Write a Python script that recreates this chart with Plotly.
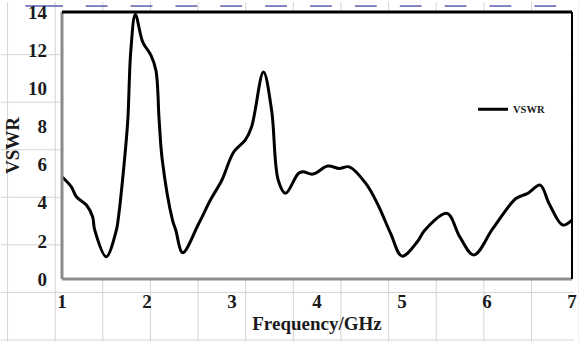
import plotly.graph_objects as go

# Measured VSWR of the antenna over 1-7 GHz
freq_ghz = [1.00, 1.11, 1.17, 1.29, 1.36, 1.385, 1.52, 1.64, 1.66, 1.735,
            1.774, 1.81, 1.863, 1.95, 2.047, 2.105, 2.143, 2.18, 2.30, 2.338,
            2.42, 2.61, 2.746, 2.88, 3.02, 3.155, 3.23, 3.37, 3.466, 3.544,
            3.63, 3.78, 3.835, 3.95, 4.127, 4.26, 4.38, 4.574, 4.71, 4.866,
            5.0, 5.18, 5.27, 5.53, 5.68, 5.845, 6.07, 6.34, 6.48, 6.625,
            6.73, 6.89, 7.0]
vswr = [5.36, 4.83, 4.31, 3.87, 3.26, 2.57, 1.17, 2.57, 3.09, 6.23,
        8.32, 12.0, 13.87, 12.42, 11.73, 10.94, 8.32, 6.23, 3.09, 2.57,
        1.38, 2.92, 4.14, 5.18, 6.66, 7.28, 7.97, 10.85, 8.85, 5.18,
        4.49, 5.53, 5.62, 5.5, 5.92, 5.8, 5.88, 5.01, 3.96, 2.39,
        1.2, 1.95, 2.57, 3.44, 2.21, 1.26, 2.65, 4.22, 4.49, 4.92,
        3.96, 2.83, 3.09]

x_ticks = [1, 2, 3, 4, 5, 6, 7]
y_ticks = [0, 2, 4, 6, 8, 10, 12, 14]

W, H = 579, 342
L, R, T, B = 62, 2, 10, 63
PW, PH = W - L - R, H - T - B

FONT = "Liberation Serif, Times New Roman, serif"
TICK_FONT = dict(family=FONT, size=19, color="#1a1a1a")


def px(x):
    return (x - L) / PW


def py(y):
    return (T + PH - y) / PH


def bold(values):
    return [f"<b>{v}</b>" for v in values]


shapes = []
# worksheet cell grid behind the chart
grid = dict(color="#d4d4d4", width=1)
col_x = [7 + 48.1 * i for i in range(13)]
row_y = [53 + 47.9 * i for i in range(7)]
for cx in col_x:
    shapes.append(dict(type="line", xref="paper", yref="paper", layer="below",
                       x0=px(cx), x1=px(cx), y0=py(0), y1=py(H), line=grid))
for ry in row_y:
    shapes.append(dict(type="line", xref="paper", yref="paper", layer="below",
                       x0=px(0), x1=px(W), y0=py(ry), y1=py(ry), line=grid))
# page-break dashes along the top edge
dash_starts = [25] + [86 + 45.3 * i for i in range(11)]
for i, ds in enumerate(dash_starts):
    de = 63 if i == 0 else ds + 22
    shapes.append(dict(type="line", xref="paper", yref="paper", layer="below",
                       x0=px(ds), x1=px(de), y0=py(4), y1=py(4),
                       line=dict(color="#5b5bb0", width=1.5)))
# white plot area
shapes.append(dict(type="rect", xref="paper", yref="paper", layer="below",
                   x0=0, x1=1, y0=0, y1=1, fillcolor="white",
                   line=dict(width=0)))
# plot-area frame
shapes += [
    dict(type="line", xref="paper", yref="paper", x0=0, x1=1, y0=0, y1=0,
         line=dict(color="#8c8c8c", width=3)),
    dict(type="line", xref="paper", yref="paper", x0=0, x1=0, y0=0, y1=1,
         line=dict(color="#8c8c8c", width=3)),
    dict(type="line", xref="paper", yref="paper", x0=0, x1=1, y0=1, y1=1,
         line=dict(color="black", width=3)),
    dict(type="line", xref="paper", yref="paper", x0=1, x1=1, y0=0, y1=1,
         line=dict(color="black", width=2)),
]

fig = go.Figure()
fig.add_trace(go.Scatter(
    x=freq_ghz, y=vswr, name="<b>VSWR</b>", mode="lines",
    line=dict(color="black", width=3, shape="spline", smoothing=1.0),
))

fig.update_layout(
    width=W, height=H,
    margin=dict(l=L, r=R, t=T, b=B),
    paper_bgcolor="white",
    plot_bgcolor="white",
    font=dict(family=FONT, size=19, color="#1a1a1a"),
    shapes=shapes,
    showlegend=True,
    legend=dict(x=px(477), y=py(108), xanchor="left", yanchor="middle",
                bgcolor="rgba(0,0,0,0)",
                font=dict(family=FONT, size=10.5, color="#1a1a1a")),
    xaxis=dict(range=[1, 7], tickvals=x_ticks, ticktext=bold(x_ticks),
               ticks="", showgrid=False,
               zeroline=False, showline=False, ticklabelstandoff=9,
               ticklabeloverflow="allow", tickfont=TICK_FONT,
               title=dict(text="<b>Frequency/GHz</b>", standoff=5,
                          font=dict(family=FONT, size=19))),
    yaxis=dict(range=[0, 14], tickvals=y_ticks, ticktext=bold(y_ticks),
               ticks="", showgrid=False,
               zeroline=False, showline=False, ticklabelstandoff=14,
               ticklabeloverflow="allow", tickfont=TICK_FONT,
               title=dict(text="<b>VSWR</b>", standoff=3,
                          font=dict(family=FONT, size=19))),
)

fig.write_html("out.html")
